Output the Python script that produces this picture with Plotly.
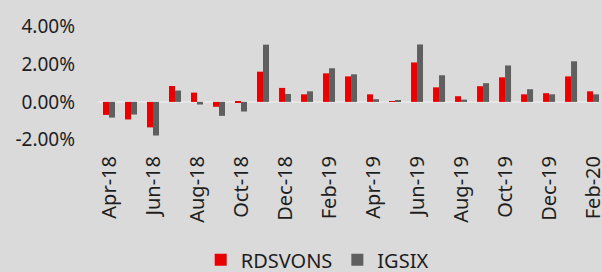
import plotly.graph_objects as go

months = ["Apr-18", "May-18", "Jun-18", "Jul-18", "Aug-18", "Sep-18", "Oct-18", "Nov-18",
          "Dec-18", "Jan-19", "Feb-19", "Mar-19", "Apr-19", "May-19", "Jun-19", "Jul-19",
          "Aug-19", "Sep-19", "Oct-19", "Nov-19", "Dec-19", "Jan-20", "Feb-20"]
rdsvons = [-0.69, -0.93, -1.35, 0.84, 0.49, -0.26, -0.02, 1.60, 0.74, 0.40, 1.51, 1.35,
           0.40, 0.02, 2.09, 0.77, 0.30, 0.83, 1.30, 0.40, 0.46, 1.35, 0.56]
igsix = [-0.83, -0.67, -1.78, 0.60, -0.14, -0.74, -0.51, 3.03, 0.42, 0.56, 1.78, 1.46,
         0.14, 0.09, 3.04, 1.41, 0.12, 0.99, 1.93, 0.67, 0.40, 2.15, 0.40]
x_tick_labels = months[::2]
y_tick_vals = [-2, 0, 2, 4]
y_tick_labels = ["-2.00%", "0.00%", "2.00%", "4.00%"]

FONT = "Noto Sans"
fig = go.Figure()
fig.add_trace(go.Bar(x=months, y=rdsvons, name="RDSVONS", marker_color="#ea0000",
                     marker_line_width=0))
fig.add_trace(go.Bar(x=months, y=igsix, name="IGSIX", marker_color="#5f5f5f",
                     marker_line_width=0))

fig.update_layout(
    width=602, height=272,
    margin=dict(l=98, r=3, t=15, b=121, autoexpand=False),
    paper_bgcolor="#dadada", plot_bgcolor="#dadada",
    barmode="group", bargap=0.455, bargroupgap=0,
    font=dict(family=FONT, size=20, color="#1e1e1e"),
    showlegend=True,
    legend=dict(orientation="h", x=0.205, xanchor="left", y=-0.8, yanchor="middle",
                font=dict(size=20), bgcolor="rgba(0,0,0,0)", itemclick=False,
                tracegroupgap=0),
    xaxis=dict(type="category", range=[-0.5, 22.27], tickvals=x_tick_labels,
               ticktext=x_tick_labels, tickangle=-90, showgrid=False, showline=False,
               ticks="", zeroline=False, automargin=False),
    yaxis=dict(range=[-2.6, 4.6], tickvals=y_tick_vals, ticktext=y_tick_labels,
               tickfont=dict(size=19),
               showgrid=False, showline=False, ticks="", zeroline=True,
               zerolinecolor="#e6e6e6", zerolinewidth=2, ticklabelstandoff=22,
               layer="above traces", automargin=False),
)
fig.write_html("out.html", config={"displayModeBar": False},
               post_script="document.body.style.margin='0';document.body.style.overflow='hidden';")
